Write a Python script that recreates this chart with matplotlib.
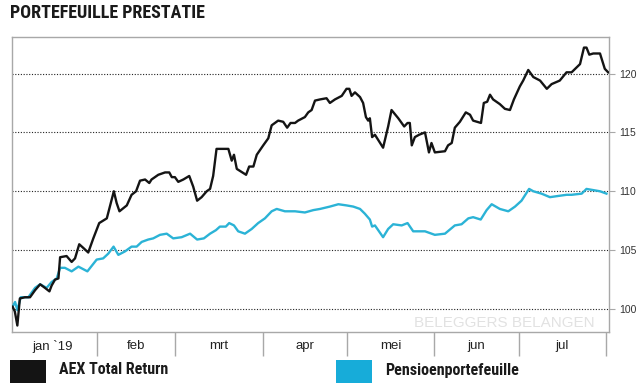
import matplotlib
matplotlib.use("Agg")
import matplotlib.pyplot as plt
from matplotlib.patches import Rectangle

# ---- data (x = days since 1 Jan 2019) ----
aex_days = [1.1, 1.9, 2.8, 3.7, 5.5, 7.3, 9.1, 10.9, 12.6, 14.2, 15.0, 16.2, 17.4, 18.0,
            20.3, 22.1, 23.3, 24.8, 26.2, 28.0, 29.8, 31.9, 34.6, 35.7, 37.1, 38.1, 39.1,
            41.7, 43.4, 45.0, 46.4, 48.2, 49.7, 50.5, 52.9, 55.3, 56.8, 57.7, 58.8, 60.0,
            61.8, 63.9, 65.3, 66.7, 68.3, 70.1, 71.3, 72.4, 73.6, 77.8, 79.0, 79.8, 80.8,
            84.1, 85.2, 86.7, 87.9, 90.2, 92.0, 93.2, 95.5, 97.3, 98.7, 99.9, 101.5, 102.6,
            105.0, 106.2, 107.4, 108.6, 110.4, 112.7, 113.9, 115.7, 118.1, 119.8, 120.8,
            121.6, 122.8, 124.6, 125.7, 126.7, 127.5, 128.1, 128.9, 129.9, 132.8, 134.6,
            135.8, 138.2, 140.3, 141.5, 142.3, 143.0, 144.1, 145.6, 147.7, 149.1, 150.0,
            151.2, 154.8, 155.9, 157.2, 158.3, 160.1, 162.2, 163.7, 164.8, 167.6, 168.6,
            169.8, 170.8, 171.9, 174.3, 176.1, 177.9, 179.3, 181.4, 182.6, 184.4, 186.2,
            188.6, 191.0, 192.7, 195.6, 198.0, 199.8, 202.8, 204.2, 205.1, 206.1, 207.5,
            209.9, 211.6, 212.8]
aex_values = [100.2, 99.8, 98.6, 100.9, 101.0, 101.0, 101.6, 102.1, 101.8, 101.5, 102.0, 102.5,
              102.6, 104.4, 104.5, 104.0, 104.3, 105.5, 105.2, 104.8, 106.0, 107.3, 107.7,
              108.7, 110.0, 109.0, 108.3, 108.8, 109.7, 110.0, 110.9, 111.0, 110.7, 111.0,
              111.4, 111.6, 111.6, 111.2, 111.2, 110.8, 111.0, 111.3, 110.4, 109.2, 109.5,
              110.0, 110.2, 111.3, 113.6, 113.6, 112.6, 113.1, 111.9, 111.4, 112.1, 112.1,
              113.1, 113.9, 114.5, 115.6, 116.0, 115.9, 115.4, 115.8, 115.8, 116.0, 116.3,
              116.7, 116.9, 117.7, 117.8, 117.9, 117.5, 117.8, 118.1, 118.7, 118.7, 118.1,
              118.4, 118.0, 117.5, 116.3, 116.0, 116.2, 114.6, 114.8, 113.7, 115.5, 116.9,
              116.2, 115.5, 115.8, 115.8, 113.9, 114.6, 114.8, 115.0, 113.3, 114.1, 113.3,
              113.4, 113.9, 114.1, 115.4, 115.9, 116.7, 116.5, 116.0, 115.8, 117.5, 117.6,
              118.2, 117.8, 117.4, 117.0, 116.9, 117.8, 118.9, 119.4, 120.3, 119.7, 119.4,
              118.7, 119.1, 119.4, 120.1, 120.1, 120.8, 122.2, 122.2, 121.6, 121.7, 121.7,
              120.4, 120.1]

pens_days = [1.1, 2.0, 2.8, 4.0, 6.7, 9.1, 10.9, 13.2, 15.0, 16.8, 18.0, 19.7, 22.1, 24.5,
             27.7, 31.0, 33.3, 35.1, 37.0, 38.7, 41.1, 43.4, 45.2, 47.0, 49.3, 51.1, 53.5,
             55.9, 58.2, 61.2, 64.2, 66.7, 69.1, 71.3, 73.4, 74.8, 76.9, 78.1, 79.8, 81.3,
             83.7, 86.1, 88.4, 90.8, 93.2, 95.0, 97.9, 101.5, 105.0, 108.0, 110.4, 113.9,
             116.9, 119.8, 122.2, 124.6, 126.3, 128.1, 128.9, 129.9, 132.8, 134.6, 136.4,
             139.4, 141.5, 143.5, 145.9, 147.7, 151.2, 154.8, 158.3, 160.7, 163.1, 164.8,
             167.5, 169.6, 171.4, 174.3, 177.3, 179.7, 182.0, 184.7, 186.2, 189.1, 192.1,
             195.0, 198.0, 199.8, 203.4, 205.1, 209.9, 212.2]
pens_values = [100.2, 100.6, 99.9, 101.0, 101.0, 101.8, 102.1, 101.8, 102.3, 102.6, 103.5,
               103.5, 103.2, 103.6, 103.2, 104.2, 104.3, 104.7, 105.3, 104.6, 104.9, 105.3,
               105.3, 105.7, 105.9, 106.0, 106.3, 106.4, 106.0, 106.1, 106.4, 105.9, 106.0,
               106.4, 106.7, 107.0, 107.0, 107.3, 107.1, 106.6, 106.4, 106.8, 107.3, 107.7,
               108.3, 108.5, 108.3, 108.3, 108.2, 108.4, 108.5, 108.7, 108.9, 108.8, 108.7,
               108.5, 108.1, 107.6, 107.0, 107.1, 106.1, 106.8, 107.2, 107.1, 107.3, 106.6,
               106.6, 106.6, 106.3, 106.4, 107.1, 107.2, 107.7, 107.8, 107.6, 108.4, 108.9,
               108.5, 108.3, 108.7, 109.2, 110.2, 110.0, 109.8, 109.5, 109.6, 109.7, 109.7,
               109.8, 110.2, 110.0, 109.8]

month_bounds = [31, 59, 90, 120, 151, 181, 212]
month_labels = ["jan `19", "feb", "mrt", "apr", "mei", "jun", "jul"]
month_centers = [15.5, 45, 74.5, 105, 135.5, 166, 196.5]
y_ticks = [100, 105, 110, 115, 120]

series_names = ["AEX Total Return", "Pensioenportefeuille"]
black = "#141414"
cyan = "#2BB3D6"
cyan_patch = "#17ACD9"
grey = "#a8a8a8"
narrow = ["Roboto Condensed", "Archivo Narrow", "PT Sans Narrow", "Asap Condensed",
          "Liberation Sans Narrow", "DejaVu Sans"]
regular = ["Liberation Sans", "DejaVu Sans"]

fig = plt.figure(figsize=(6.41, 3.85), dpi=100)
ax = fig.add_axes([12 / 641, (385 - 332) / 385, (609 - 12) / 641, (332 - 37) / 385])

for v in y_ticks:
    ax.axhline(v, color="#222222", linestyle=(0, (1, 1.5)), linewidth=0.8, zorder=1)

ax.plot(pens_days, pens_values, color=cyan, linewidth=1.7, zorder=3, solid_joinstyle="round")
ax.plot(aex_days, aex_values, color=black, linewidth=1.7, zorder=4, solid_joinstyle="round")

ax.set_xlim(0.9, 213.1)
ax.set_ylim(98.05, 123.1)

for s in ax.spines.values():
    s.set_color(grey)
    s.set_linewidth(1.0)

ax.yaxis.tick_right()
ax.set_yticks(y_ticks)
ax.set_yticklabels([str(v) for v in y_ticks], family=regular, fontsize=7.5, color="#333333")
ax.tick_params(axis="y", length=4, width=0.8, color=grey, pad=3)

ax.set_xticks(month_centers)
ax.set_xticklabels(month_labels, family=regular, fontsize=9.5, color="#222222")
ax.tick_params(axis="x", which="major", length=0, pad=6)
ax.set_xticks(month_bounds, minor=True)
ax.tick_params(axis="x", which="minor", length=17, width=1.0, color=grey, direction="out")

ax.text(0.825, 0.03, "BELEGGERS BELANGEN", transform=ax.transAxes, ha="center", va="center",
        fontsize=11, color="#e2e2e2", family=regular, zorder=2)

fig.text(10 / 641, 1 - 13 / 385, "PORTEFEUILLE PRESTATIE", family=narrow, fontweight="bold",
         fontsize=13, color="#1a1a1a", ha="left", va="center")

# legend
fig.patches.append(Rectangle((10 / 641, (385 - 383) / 385), 36 / 641, 23 / 385,
                             transform=fig.transFigure, facecolor=black, edgecolor="none"))
fig.text(59 / 641, (385 - 370) / 385, series_names[0], family=narrow, fontweight="bold",
         fontsize=11.5, color="#1a1a1a", ha="left", va="center")
fig.patches.append(Rectangle((336 / 641, (385 - 383) / 385), 36 / 641, 23 / 385,
                             transform=fig.transFigure, facecolor=cyan_patch, edgecolor="none"))
fig.text(385 / 641, (385 - 370) / 385, series_names[1], family=narrow, fontweight="bold",
         fontsize=11.5, color="#1a1a1a", ha="left", va="center")

fig.savefig("out.png", dpi=100)
